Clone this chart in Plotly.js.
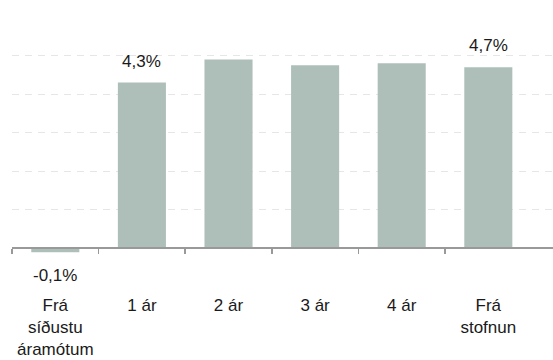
<!DOCTYPE html>
<html>
<head>
<meta charset="utf-8">
<script src="https://cdn.plot.ly/plotly-3.0.1.min.js"></script>
<style>html,body{margin:0;padding:0;background:#fff;}#chart{width:553px;height:360px;}</style>
</head>
<body>
<div id="chart"></div>
<script>
var categories = ['Frá<br>síðustu<br>áramótum', '1 ár', '2 ár', '3 ár', '4 ár', 'Frá<br>stofnun'];
var values = [-0.1, 4.3, 4.9, 4.75, 4.8, 4.7];
var valueLabels = ['-0,1%', '4,3%', '', '', '', '4,7%'];

var barColor = '#aebfb9';
var font = {family: 'Arial', size: 17, color: '#1a1a1a'};

var idx = categories.map(function (c, i) { return i; });
// boundaries between categories (left edge of first through left edge of last)
var boundaryTicks = idx.map(function (i) { return i - 0.5; });

var traces = [
  {type: 'bar', x: categories, y: values, marker: {color: barColor}, width: 0.555, hoverinfo: 'skip', xaxis: 'x', yaxis: 'y'},
  {type: 'bar', x: idx, y: values, marker: {color: 'rgba(0,0,0,0)'}, width: 0.555, hoverinfo: 'skip', xaxis: 'x2', yaxis: 'y'}
];

var annotations = [];
for (var i = 0; i < categories.length; i++) {
  if (!valueLabels[i]) continue;
  var neg = values[i] < 0;
  annotations.push({
    x: categories[i], y: values[i], xref: 'x', yref: 'y',
    text: valueLabels[i], showarrow: false,
    yanchor: neg ? 'top' : 'bottom',
    yshift: neg ? -12 : 10,
    font: font
  });
}

var xRange = [-0.5, 5.747];
var layout = {
  width: 553, height: 360,
  margin: {l: 12, r: 0, t: 17, b: 73},
  paper_bgcolor: '#fff', plot_bgcolor: '#fff',
  showlegend: false,
  barmode: 'overlay',
  font: font,
  xaxis: {
    type: 'category', range: xRange, showgrid: false, zeroline: false, showline: false,
    ticks: '', tickfont: font, ticklabelstandoff: 6, fixedrange: true
  },
  xaxis2: {
    type: 'linear', overlaying: 'x', anchor: 'free', position: 1/7, range: xRange,
    showgrid: false, zeroline: false, showline: true, linecolor: '#999', linewidth: 2,
    tickmode: 'array', tickvals: boundaryTicks,
    ticks: 'outside', ticklen: 5, tickwidth: 1.5, tickcolor: '#999',
    showticklabels: false
  },
  yaxis: {
    range: [-1, 6], dtick: 1, showticklabels: false, ticks: '',
    showgrid: true, gridcolor: '#e6e6e6', gridwidth: 1, griddash: '7px,6px',
    zeroline: false, showline: false, fixedrange: true
  },
  annotations: annotations
};

Plotly.newPlot('chart', traces, layout, {staticPlot: true, displayModeBar: false});
</script>
</body>
</html>
